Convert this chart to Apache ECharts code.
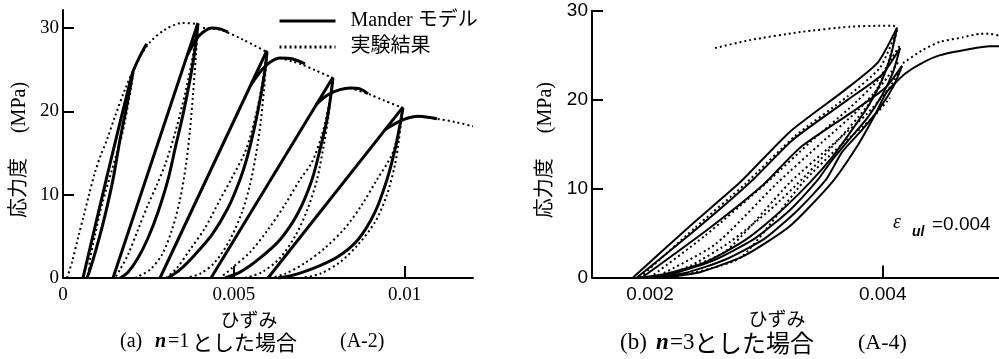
<!DOCTYPE html>
<html>
<head>
<meta charset="utf-8">
<script src="https://cdn.jsdelivr.net/npm/echarts@6/dist/echarts.min.js"></script>
<style>
    html, body { margin: 0; padding: 0; background: #fff; }
    #main { width: 999px; height: 359px; }
</style>
</head>
<body>
<div id="main"></div>
<script>
// strain is written in units of 1e-3, stress in MPa

// ---- (a) n=1 : test result (dotted)
var aTestEnv0 = [[0.117,0],[0.263,1.9],[0.439,4.8],[0.615,7.6],[0.761,10.0],[0.937,12.7],[1.112,14.8],[1.288,16.6],[1.522,19.4],[1.814,22.6],[2.166,25.9],[2.546,28.3],[2.985,29.8],[3.483,30.6],[3.922,30.5]];
var aTestEnv1 = [[4.10,30.0],[4.59,29.8],[5.27,28.6],[5.97,27.1]];
var aTestEnv2 = [[6.35,26.4],[6.70,26.0],[7.00,25.6],[7.40,24.9],[7.90,24.0]];
var aTestEnv3 = [[8.40,22.8],[8.93,22.1],[9.40,21.3],[9.95,20.4]];
var aTestEnv4 = [[10.39,19.4],[10.95,19.1],[11.5,18.7],[12.0,18.2]];
var aTestLoop0 = [[2.078,25.2],[1.932,21.4],[1.727,17.2],[1.434,13.0],[1.141,8.8],[0.937,5.2],[0.790,2.2],[0.732,0]];
var aTestUnl1 = [[3.922,30.5],[3.805,26.8],[3.600,22.6],[3.307,17.8],[3.014,13.9],[2.751,11.2],[2.488,8.8],[2.195,5.8],[1.902,2.8],[1.668,1.0],[1.522,0]];
var aTestRel1 = [[2.107,0],[2.546,1.0],[2.897,2.8],[3.190,5.8],[3.424,9.4],[3.600,13.6],[3.717,17.8],[3.805,22.0],[3.892,26.8],[3.951,30.1]];
var aTestUnl2 = [[5.970,27.1],[5.853,23.8],[5.648,19.6],[5.356,15.4],[4.917,11.8],[4.595,9.4],[4.156,6.0],[3.717,3.4],[3.336,1.2],[3.014,0]];
var aTestRel2 = [[3.570,0],[4.009,0.5],[4.448,1.9],[4.887,4.6],[5.239,7.9],[5.473,11.2],[5.648,14.8],[5.795,19.0],[5.882,22.6],[5.970,26.8]];
var aTestUnl3 = [[7.902,24.0],[7.785,20.8],[7.580,17.2],[7.287,13.9],[6.936,11.8],[6.497,8.8],[6.0,5.8],[5.473,3.1],[4.946,1.2],[4.595,0]];
var aTestRel3 = [[5.326,0],[5.824,0.7],[6.351,2.4],[6.819,5.2],[7.170,8.4],[7.434,11.8],[7.609,15.4],[7.756,19.0],[7.843,22.0],[7.902,23.8]];
var aTestUnl4 = [[9.950,20.4],[9.833,17.8],[9.628,14.8],[9.189,11.8],[8.750,8.8],[8.253,6.0],[7.668,3.6],[7.082,1.8],[6.497,0.5],[6.058,0]];
var aTestRel4 = [[6.936,0],[7.521,0.5],[8.107,1.9],[8.633,4.0],[9.131,6.7],[9.482,10.0],[9.716,13.6],[9.833,16.6],[9.921,19.6]];

// ---- (a) n=1 : Mander model (solid)
var aMR0 = [[0.585,0],[2.019,24.4],[2.25,26.6],[2.45,28.1]];
var aMU0 = [[2.049,24.7],[1.873,20.8],[1.668,16.6],[1.463,11.8],[1.200,7.0],[0.966,3.4],[0.790,1.0],[0.702,0]];
var aMR1 = [[1.463,0],[3.951,30.6]];
var aMT1 = [[3.646,26.8],[3.892,28.6],[4.097,29.5],[4.361,30.0],[4.595,29.9],[4.829,29.5]];
var aMU1 = [[3.951,30.5],[3.863,27.4],[3.717,23.8],[3.512,19.6],[3.307,16.0],[3.073,11.8],[2.780,7.9],[2.488,4.8],[2.195,2.4],[1.902,0.7],[1.668,0]];
var aMR2 = [[2.839,0],[5.970,27.3]];
var aMT2 = [[5.502,23.2],[5.824,25.0],[6.058,25.9],[6.351,26.4],[6.702,26.3],[7.082,25.7]];
var aMU2 = [[5.970,27.1],[5.912,25.0],[5.795,22.0],[5.590,17.8],[5.385,14.4],[5.180,11.8],[4.829,8.4],[4.361,5.2],[3.863,2.8],[3.424,1.0],[3.073,0]];
var aMR3 = [[4.331,0],[7.902,24.1]];
var aMT3 = [[7.404,20.8],[7.756,22.0],[8.107,22.6],[8.399,22.8],[8.692,22.7],[8.926,22.1]];
var aMU3 = [[7.902,24.0],[7.843,22.0],[7.726,19.0],[7.521,15.4],[7.287,11.8],[6.878,7.8],[6.351,4.6],[5.707,2.2],[5.180,0.7],[4.741,0]];
var aMR4 = [[6.0,0],[9.950,20.5]];
var aMT4 = [[9.423,17.8],[9.804,18.7],[10.097,19.2],[10.389,19.4],[10.682,19.3],[10.945,19.1]];
var aMU4 = [[9.950,20.4],[9.863,18.4],[9.716,15.4],[9.482,11.8],[9.131,7.9],[8.633,4.6],[8.019,2.5],[7.229,1.0],[6.644,0.24],[6.292,0]];

// ---- (b) n=3 : Mander model (solid)
var bMR1 = [[1.853,0],[2.343,5.8],[2.773,10.7],[3.203,16.4],[3.676,21.1],[3.959,24.2],[4.123,28.1]];
var bMR2 = [[1.887,0],[2.429,5.8],[2.884,11.0],[3.228,15.5],[3.701,20.0],[3.994,22.8],[4.149,25.8]];
var bMR3 = [[1.930,0],[2.515,5.6],[2.970,10.4],[3.289,14.6],[3.736,18.6],[4.020,21.3],[4.166,23.8]];
var bMU1 = [[4.123,28.1],[4.071,25.0],[3.994,22.2],[3.882,19.4],[3.736,16.6],[3.564,13.5],[3.375,10.7],[3.117,7.4],[2.816,4.2],[2.472,1.7],[2.128,0.4],[1.913,0]];
var bMU2 = [[4.149,25.8],[4.089,23.1],[3.994,20.5],[3.865,17.9],[3.710,15.5],[3.547,12.9],[3.443,11.0],[3.203,7.6],[2.902,4.4],[2.558,2.0],[2.214,0.5],[1.973,0]];
var bMU3 = [[4.166,23.8],[4.097,21.6],[3.977,19.1],[3.822,16.6],[3.650,14.1],[3.512,11.0],[3.271,7.6],[2.988,4.4],[2.644,2.0],[2.300,0.5],[2.042,0]];
var bMEnv = [[2.102,0],[2.429,0.6],[2.816,2.5],[3.203,5.8],[3.564,10.7],[3.787,14.9],[3.934,18.3],[4.037,20.9],[4.192,22.9],[4.321,24.0],[4.493,25.0],[4.751,25.7],[4.923,26.0],[5.0,26.0]];

// ---- (b) n=3 : test result (dotted)
var bTestTop = [[2.558,25.8],[2.859,26.7],[3.289,27.6],[3.719,28.2],[3.977,28.3],[4.089,28.3],[4.123,28.1]];
var bTestEnv = [[4.174,24.1],[4.346,25.6],[4.493,26.5],[4.690,27.0],[4.837,27.4],[4.923,27.4],[5.0,27.2]];
var bTestD0 = [[1.913,0],[2.386,5.6],[2.816,10.5],[3.246,15.9],[3.701,20.4],[3.977,23.6],[4.123,27.8]];
var bTestD1 = [[1.999,0],[2.472,4.7],[3.005,10.7],[3.375,15.2],[3.719,19.1],[3.959,22.2],[4.080,24.7],[4.149,26.1]];
var bTestD2 = [[2.042,0],[2.558,3.7],[3.099,10.7],[3.478,15.2],[3.787,18.8],[4.011,22.0],[4.132,24.2]];
var bTestD3 = [[2.102,0],[2.644,2.9],[3.203,10.7],[3.564,14.9],[3.856,18.3],[4.045,21.1],[4.166,23.6]];
var bTestD4 = [[2.188,0],[2.773,2.2],[3.314,10.7],[3.633,14.8],[3.908,17.9],[4.063,20.2]];
var bTestD5 = [[4.123,27.8],[4.028,23.3],[3.873,19.4],[3.633,15.7],[3.340,11.5],[3.031,7.6],[2.687,4.0],[2.360,1.4],[2.085,0]];

var aXTicks = [0.005, 0.01], aXLabels = [0, 0.005, 0.01];
var bXTicks = [0.004], bXLabels = [0.002, 0.004];
var yTicks = [10, 20, 30], yLabels = [0, 10, 20, 30];

var NAME_M = 'Mander モデル', NAME_T = '実験結果';
var SERIF = "'Liberation Serif', 'Noto Sans CJK JP', serif";
var SANS = "'Liberation Sans', 'Noto Sans CJK JP', sans-serif";
var CJK = "'Noto Sans CJK JP', sans-serif";

var series = [];
function add(curves, name, idx, width, dotted, smooth) {
    curves.forEach(function (c) {
        series.push({
            type: 'line', name: name, xAxisIndex: idx, yAxisIndex: idx,
            data: c.map(function (p) { return [p[0] / 1000, p[1]]; }),
            symbol: 'none', smooth: c.length > 2 ? smooth : false,
            itemStyle: { color: 'rgba(0,0,0,0)' },
            lineStyle: { color: '#000', width: width, type: dotted ? [2, 3] : 'solid' },
            silent: true, z: dotted ? 2 : 3
        });
    });
}
add([aMR0, aMU0, aMR1, aMT1, aMU1, aMR2, aMT2, aMU2, aMR3, aMT3, aMU3, aMR4, aMT4, aMU4], NAME_M, 0, 3, false, 0.3);
add([aTestEnv0, aTestEnv1, aTestEnv2, aTestEnv3, aTestEnv4, aTestLoop0, aTestUnl1, aTestRel1,
     aTestUnl2, aTestRel2, aTestUnl3, aTestRel3, aTestUnl4, aTestRel4], NAME_T, 0, 2, true, 0.3);
add([bMR1, bMR2, bMR3, bMU1, bMU2, bMU3, bMEnv], NAME_M, 1, 2, false, 0.2);
add([bTestTop, bTestEnv, bTestD0, bTestD1, bTestD2, bTestD3, bTestD4, bTestD5], NAME_T, 1, 2, true, 0.2);

function xAxis(idx, min, max, ticks, labels, font, padR) {
    return {
        type: 'value', gridIndex: idx, min: min, max: max,
        axisLine: { show: true, onZero: false, lineStyle: { color: '#000', width: 2 } },
        axisTick: { show: true, inside: true, length: 12, customValues: ticks, lineStyle: { color: '#000', width: 2 } },
        axisLabel: { customValues: labels, color: '#000', fontSize: 19, fontFamily: font, margin: 8 },
        splitLine: { show: false },
        name: 'ひずみ', nameLocation: 'middle', nameGap: 30,
        nameTextStyle: { color: '#000', fontSize: 19, fontFamily: CJK, padding: [0, padR, 0, 0] }
    };
}
function yAxis(idx, max, font, gap) {
    return {
        type: 'value', gridIndex: idx, min: 0, max: max,
        axisLine: { show: true, onZero: false, lineStyle: { color: '#000', width: 2 } },
        axisTick: { show: true, inside: true, length: 11, customValues: yTicks, lineStyle: { color: '#000', width: 2 } },
        axisLabel: { customValues: yLabels, color: '#000', fontSize: 19, fontFamily: font, margin: 4 },
        splitLine: { show: false },
        name: '応力度\u3000 (MPa)', nameLocation: 'middle', nameRotate: 90, nameGap: gap,
        nameTextStyle: { color: '#000', fontSize: 20, fontFamily: SERIF, padding: [0, 12, 0, 0] }
    };
}

function txt(x, y, s, font) {
    return { type: 'text', x: x, y: y, silent: true,
        style: { text: s, font: font, fill: '#000', textAlign: 'left', textVerticalAlign: 'middle' } };
}

var option = {
    backgroundColor: '#fff',
    animation: false,
    grid: [
        { left: 63, top: 10, width: 410, height: 268 },
        { left: 592, top: 10.7, width: 407, height: 266.8 }
    ],
    xAxis: [
        xAxis(0, 0, 0.012, aXTicks, aXLabels, SERIF, 38),
        xAxis(1, 0.0015, 0.005, bXTicks, bXLabels, SANS, 37)
    ],
    yAxis: [
        yAxis(0, 32.16, SERIF, 33),
        yAxis(1, 30, SANS, 36)
    ],
    legend: {
        data: [NAME_M, NAME_T], orient: 'vertical', left: 273, top: 6,
        itemWidth: 56, itemHeight: 20, itemGap: 6, selectedMode: false,
        itemStyle: { opacity: 0 },
        lineStyle: { width: 3 },
        textStyle: { color: '#000', fontSize: 20, fontFamily: SERIF, padding: [0, 0, 0, 10] }
    },
    graphic: [
        txt(120, 342, '(a)', "20px 'Liberation Serif'"),
        txt(155, 342, 'n', "italic bold 20px 'Liberation Serif'"),
        txt(168, 342, '=1', "20px 'Liberation Serif'"),
        txt(192, 342, 'とした場合', "21px 'Noto Sans CJK JP'"),
        txt(340, 342, '(A-2)', "20px 'Liberation Serif'"),
        txt(620, 343, '(b)', "23px 'Liberation Serif'"),
        txt(656, 343, 'n', "italic bold 23px 'Liberation Serif'"),
        txt(670, 343, '=3', "23px 'Liberation Serif'"),
        txt(694, 343, 'とした場合', "24px 'Noto Sans CJK JP'"),
        txt(858, 343, '(A-4)', "22px 'Liberation Serif'"),
        txt(893, 223, 'ε', "italic 20px 'Liberation Serif'"),
        txt(912, 232, 'ul', "italic bold 14px 'Liberation Sans'"),
        txt(932, 225, '=0.004', "19px 'Liberation Sans'")
    ],
    series: series
};

var chart = echarts.init(document.getElementById('main'));
chart.setOption(option);
</script>
</body>
</html>
